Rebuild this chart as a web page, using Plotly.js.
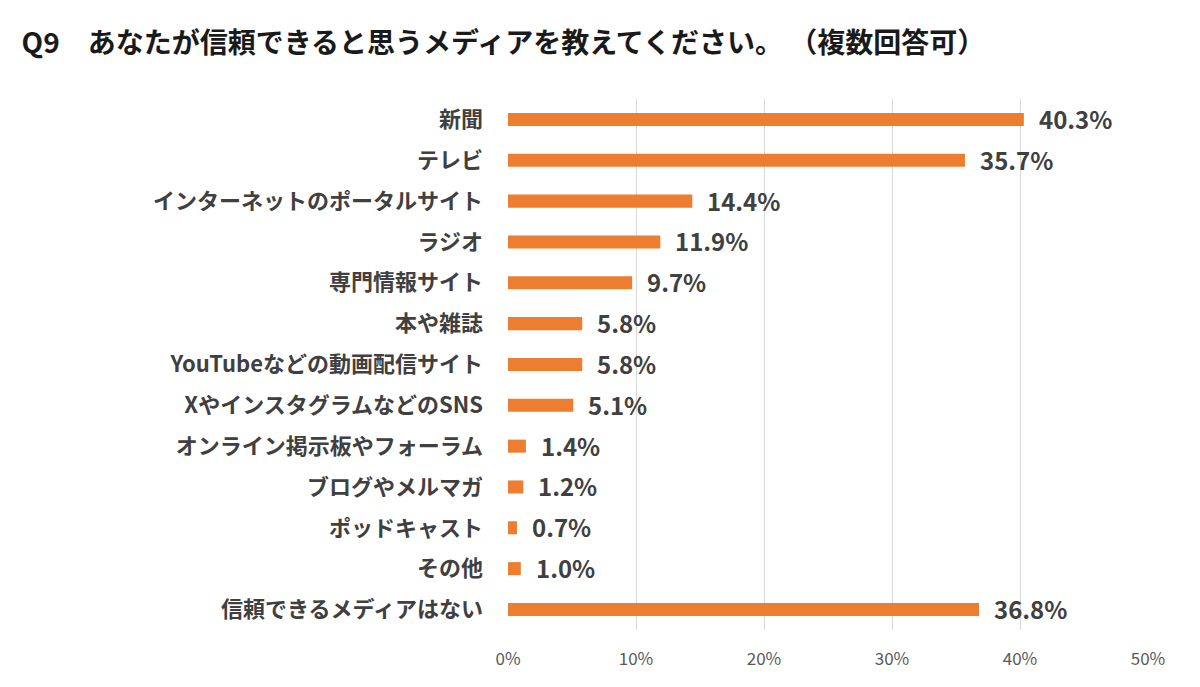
<!DOCTYPE html>
<html><head><meta charset="utf-8">
<script src="https://cdn.plot.ly/plotly-3.0.1.min.js"></script>
<style>html,body{margin:0;padding:0;background:#fff;}#chart{width:1200px;height:687px;}</style>
</head><body><div id="chart"></div>
<script>
const categories = ["新聞","テレビ","インターネットのポータルサイト","ラジオ","専門情報サイト","本や雑誌","YouTubeなどの動画配信サイト","XやインスタグラムなどのSNS","オンライン掲示板やフォーラム","ブログやメルマガ","ポッドキャスト","その他","信頼できるメディアはない"];
const values = [40.3,35.7,14.4,11.9,9.7,5.8,5.8,5.1,1.4,1.2,0.7,1.0,36.8];
const tickVals = [0,10,20,30,40,50];
const tickText = ["0%","10%","20%","30%","40%","50%"];
const titleText = "Q9　あなたが信頼できると思うメディアを教えてください。 （複数回答可）";

const font = "'Noto Sans CJK JP', 'Noto Sans', sans-serif";
const trace = {
  type: "bar", orientation: "h",
  x: values, y: categories,
  marker: {color: "#ED7D31", line: {width: 0}},
  hoverinfo: "none"
};
const annotations = values.map((v,i)=>({
  x: v, y: categories[i], xref: "x", yref: "y",
  text: "<b>" + v.toFixed(1) + "%</b>",
  showarrow: false, xanchor: "left", xshift: 13, yshift: 1,
  font: {family: font, size: 24, color: "#404040"}
}));
const layout = {
  width: 1200, height: 687,
  paper_bgcolor: "#fff", plot_bgcolor: "#fff",
  margin: {l: 508, r: 52, t: 99, b: 57},
  title: {text: "<b>" + titleText + "</b>", x: 0.018, xanchor: "left", y: 0.937, yanchor: "middle",
          font: {family: font, size: 28, color: "#1a1a1a"}},
  bargap: 0.68,
  showlegend: false,
  xaxis: {range: [0, 50], tickvals: tickVals, ticktext: tickText, showgrid: true,
          gridcolor: "#d9d9d9", gridwidth: 1, zeroline: false, showline: false,
          ticks: "", ticklabelstandoff: 17,
          tickfont: {family: font, size: 17, color: "#595959"}, fixedrange: true},
  yaxis: {autorange: "reversed", type: "category", showgrid: false, zeroline: false, showline: false,
          ticks: "", ticklabelstandoff: 24,
          tickfont: {family: font, size: 22, color: "#404040", weight: "bold"}, fixedrange: true},
  annotations: annotations
};
Plotly.newPlot("chart", [trace], layout, {displayModeBar: false, staticPlot: true});
</script></body></html>
